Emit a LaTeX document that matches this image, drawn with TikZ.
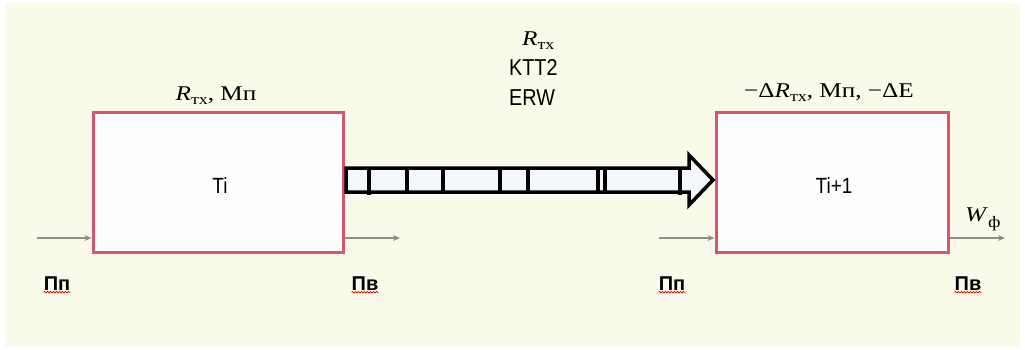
\documentclass[tikz,border=0pt]{standalone}
\usepackage{fontspec}
\setmainfont{Liberation Serif}
\newfontfamily\widef[FakeStretch=1.2]{Liberation Serif}
\newfontfamily\sansf[FakeStretch=0.86]{Liberation Sans}
\newfontfamily\labelf{Liberation Sans}
\usetikzlibrary{decorations.pathmorphing,arrows.meta,calc}
\definecolor{paper}{HTML}{FAFAEA}
\definecolor{boxred}{HTML}{D9546F}
\definecolor{boxfill}{HTML}{FDFEFF}
\definecolor{flowgray}{HTML}{8E8E86}
\definecolor{shaftfill}{HTML}{F4F7FA}
\newcommand\subtx{\raisebox{-4pt}{\fontsize{15}{15}\selectfont тх}}
\newcommand\subph{\raisebox{-6pt}{\fontsize{16}{16}\selectfont ф}}
\tikzset{
  stage/.style={draw=boxred, line width=3pt, fill=boxfill, inner sep=0pt},
  stagetext/.style={font=\sansf\fontsize{22}{22}\selectfont, anchor=base, inner sep=0pt},
  flow/.style={draw=flowgray, line width=1.4pt, -{Stealth[length=7pt,width=6pt]}},
  param/.style={font=\widef\fontsize{21}{21}\selectfont, inner sep=0pt, anchor=base},
  flowlabel/.style={font=\labelf\bfseries\fontsize{20}{20}\selectfont, inner sep=0pt, anchor=base},
  midtext/.style={font=\sansf\fontsize{23}{23}\selectfont, inner sep=0pt, anchor=base west},
  squiggle/.style={draw=red!85!black, line width=0.7pt,
    decorate, decoration={snake, amplitude=0.8pt, segment length=3pt}},
  bigarrow/.style={draw=black, line width=3.5pt, fill=shaftfill, line join=miter},
  divider/.style={draw=black, line width=3.5pt}
}
\begin{document}
\begin{tikzpicture}[x=1pt, y=-1pt]
  \useasboundingbox (0,0) rectangle (1025,349);
  \fill[white] (0,0) rectangle (1025,349);
  \fill[paper] (5,3) rectangle (1020,346);

  % stages
  \node[stage, minimum width=250pt, minimum height=140pt] (Ti) at (218,182) {};
  \node[stage, minimum width=232pt, minimum height=140pt] (Tj) at (832,182) {};
  \node[stagetext] (tiL) at (220,193) {Ti};
  \node[stagetext] (tjL) at (834,193) {Ti+1};

  % parameters above the stages
  \node[param] (pL) at (216,100) {\textit{R}\subtx, Мп};
  \node[param] (pR) at (829,97) {−Δ\textit{R}\subtx, Мп, −ΔЕ};

  % transfer labels
  \node[param, anchor=base west] (rMid) at (522,45) {\textit{R}\subtx};
  \node[midtext] (ktt) at (509,75) {KTT2};
  \node[midtext] (erw) at (509,105) {ERW};

  % thick transfer arrow between the stages
  \coordinate (s0) at (Ti.east |- 0,180);
  \draw[bigarrow] ($(s0)+(1.5,-12)$) -- (689,168) -- (689,155) -- (713,180)
    -- (689,205) -- (689,192) -- ($(s0)+(1.5,12)$) -- cycle;
  \foreach \x in {407,443,500,528,598,605}
    \draw[divider] (\x,168) -- (\x,192);
  \draw[divider] (369,168) -- (369,195);
  \draw[divider] (680,168) -- (680,195);

  % input / output flows
  \coordinate (inL) at (37,238);
  \coordinate (outL) at (400,238);
  \coordinate (inR) at (659,238);
  \coordinate (outR) at (1005,238);
  \draw[flow] (inL) -- (inL -| Ti.west);
  \draw[flow] (outL -| Ti.east) -- (outL);
  \draw[flow] (inR) -- (inR -| Tj.west);
  \draw[flow] (outR -| Tj.east) -- (outR);
  \node[param, anchor=base west] (wph) at (965,221) {\textit{W}\subph};

  % flow labels
  \node[flowlabel] (pn1) at (57,290) {Пп};
  \node[flowlabel] (pv1) at (365,290) {Пв};
  \node[flowlabel] (pn2) at (672,290) {Пп};
  \node[flowlabel] (pv2) at (968,290) {Пв};
  \foreach \n in {pn1,pv1,pn2,pv2}
    \draw[squiggle] ($(\n.south west)+(0,2)$) -- ($(\n.south east)+(0,2)$);
\end{tikzpicture}
\end{document}
